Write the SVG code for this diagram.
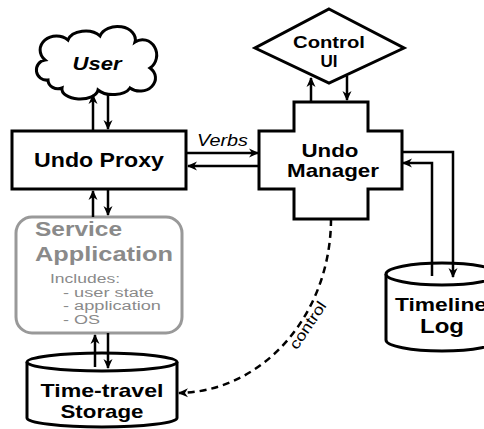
<svg xmlns="http://www.w3.org/2000/svg" width="484" height="429" viewBox="0 0 484 429">
<defs>
<style>
.n{fill:#fff;stroke:#000;stroke-width:3;stroke-linejoin:miter}
.c{fill:none;stroke:#000;stroke-width:2.5}
.d{fill:none;stroke:#000;stroke-width:2.5;stroke-dasharray:7 5}
.t{font-family:"Liberation Sans",Arial,sans-serif;font-weight:bold;fill:#000}
.g{font-family:"Liberation Sans",Arial,sans-serif;fill:#8a8a8a}
.r{font-family:"Liberation Sans",Arial,sans-serif;fill:#000}
</style>
<marker id="ah" viewBox="0 0 10 10" refX="9" refY="5" markerWidth="10" markerHeight="10" markerUnits="userSpaceOnUse" orient="auto">
<path d="M0,0.5 L10,5 L0,9.5 L3,5 z" fill="#000"/>
</marker>
</defs>
<rect width="484" height="429" fill="#fff"/>

<g id="user">
<path class="n" d="M48 80 A10 10 0 0 1 45 60 A14 12 0 0 1 68 40 A18 12 0 0 1 100 36 A18 13 0 0 1 135 42 A13 14 0 0 1 150 68 A13 11 0 0 1 130 88 A18 10 0 0 1 98 90 A18 10 0 0 1 62 88 A10 9 0 0 1 48 80 Z"/>
<text class="t" x="97" y="70" font-size="19" font-style="italic" text-anchor="middle" textLength="49" lengthAdjust="spacingAndGlyphs">User</text>
</g>

<g id="undo-proxy">
<rect class="n" x="12" y="131" width="174" height="58"/>
<text class="t" x="99" y="167" font-size="21" text-anchor="middle" textLength="130" lengthAdjust="spacingAndGlyphs">Undo Proxy</text>
</g>

<g id="control-ui">
<polygon class="n" points="329,9 404,48 329,83 255,48"/>
<text class="t" x="329" y="48" font-size="17" text-anchor="middle" textLength="72" lengthAdjust="spacingAndGlyphs">Control</text>
<text class="t" x="329" y="67" font-size="17" text-anchor="middle">UI</text>
</g>

<g id="undo-manager">
<polygon class="n" points="294,102 368,102 368,131 402,131 402,189 368,189 368,219 294,219 294,189 259,189 259,131 294,131"/>
<text class="t" x="330" y="157" font-size="19" text-anchor="middle" textLength="57" lengthAdjust="spacingAndGlyphs">Undo</text>
<text class="t" x="333" y="177" font-size="19" text-anchor="middle" textLength="92" lengthAdjust="spacingAndGlyphs">Manager</text>
</g>

<g id="service-application">
<rect x="16" y="217" width="166" height="116" rx="16" fill="#fff" stroke="#999" stroke-width="3"/>
<text class="g" x="35" y="236" font-size="20" font-weight="bold" textLength="87" lengthAdjust="spacingAndGlyphs">Service</text>
<text class="g" x="35" y="261" font-size="20" font-weight="bold" textLength="138" lengthAdjust="spacingAndGlyphs">Application</text>
<text class="g" x="50" y="283" font-size="12" textLength="70" lengthAdjust="spacingAndGlyphs">Includes:</text>
<text class="g" x="63" y="296.5" font-size="12" textLength="91" lengthAdjust="spacingAndGlyphs">- user state</text>
<text class="g" x="63" y="310" font-size="12" textLength="98" lengthAdjust="spacingAndGlyphs">- application</text>
<text class="g" x="63" y="323.5" font-size="12" textLength="37" lengthAdjust="spacingAndGlyphs">- OS</text>
</g>

<g id="time-travel-storage">
<path class="n" d="M27 362 L27 418 A75 9 0 0 0 177 418 L177 362"/>
<ellipse class="n" cx="102" cy="362" rx="75" ry="9"/>
<text class="t" x="102" y="397" font-size="19" text-anchor="middle" textLength="123" lengthAdjust="spacingAndGlyphs">Time-travel</text>
<text class="t" x="102" y="418" font-size="19" text-anchor="middle" textLength="83" lengthAdjust="spacingAndGlyphs">Storage</text>
</g>

<g id="timeline-log">
<path class="n" d="M386 274 L386 340 A56 11 0 0 0 498 340 L498 274"/>
<ellipse class="n" cx="442" cy="274" rx="56" ry="11"/>
<text class="t" x="395" y="311" font-size="19" textLength="92" lengthAdjust="spacingAndGlyphs">Timeline</text>
<text class="t" x="442" y="333" font-size="20" text-anchor="middle" textLength="44" lengthAdjust="spacingAndGlyphs">Log</text>
</g>

<g id="connectors">
<line class="c" x1="93" y1="131" x2="93" y2="95" marker-end="url(#ah)"/>
<line class="c" x1="108" y1="93" x2="108" y2="129" marker-end="url(#ah)"/>
<line class="c" x1="93" y1="217" x2="93" y2="191" marker-end="url(#ah)"/>
<line class="c" x1="108" y1="189" x2="108" y2="215" marker-end="url(#ah)"/>
<line class="c" x1="95" y1="367" x2="95" y2="335" marker-end="url(#ah)"/>
<line class="c" x1="108" y1="333" x2="108" y2="368" marker-end="url(#ah)"/>
<line class="c" x1="187" y1="153" x2="258" y2="153" marker-end="url(#ah)"/>
<line class="c" x1="259" y1="166" x2="188" y2="166" marker-end="url(#ah)"/>
<text class="r" x="197" y="146" font-size="16" font-style="italic" textLength="51" lengthAdjust="spacingAndGlyphs">Verbs</text>
<line class="c" x1="311" y1="102" x2="311" y2="78" marker-end="url(#ah)"/>
<line class="c" x1="347" y1="76" x2="347" y2="100" marker-end="url(#ah)"/>
<polyline class="c" points="402,152 453,152 453,277" marker-end="url(#ah)"/>
<polyline class="c" points="432,276 432,163 403,163" marker-end="url(#ah)"/>
<path class="d" d="M331 219 A154 174 0 0 1 179 393" marker-end="url(#ah)"/>
<text class="r" x="312" y="328" font-size="15" text-anchor="middle" textLength="54" lengthAdjust="spacingAndGlyphs" transform="rotate(-56 312 328)">control</text>
</g>
</svg>
